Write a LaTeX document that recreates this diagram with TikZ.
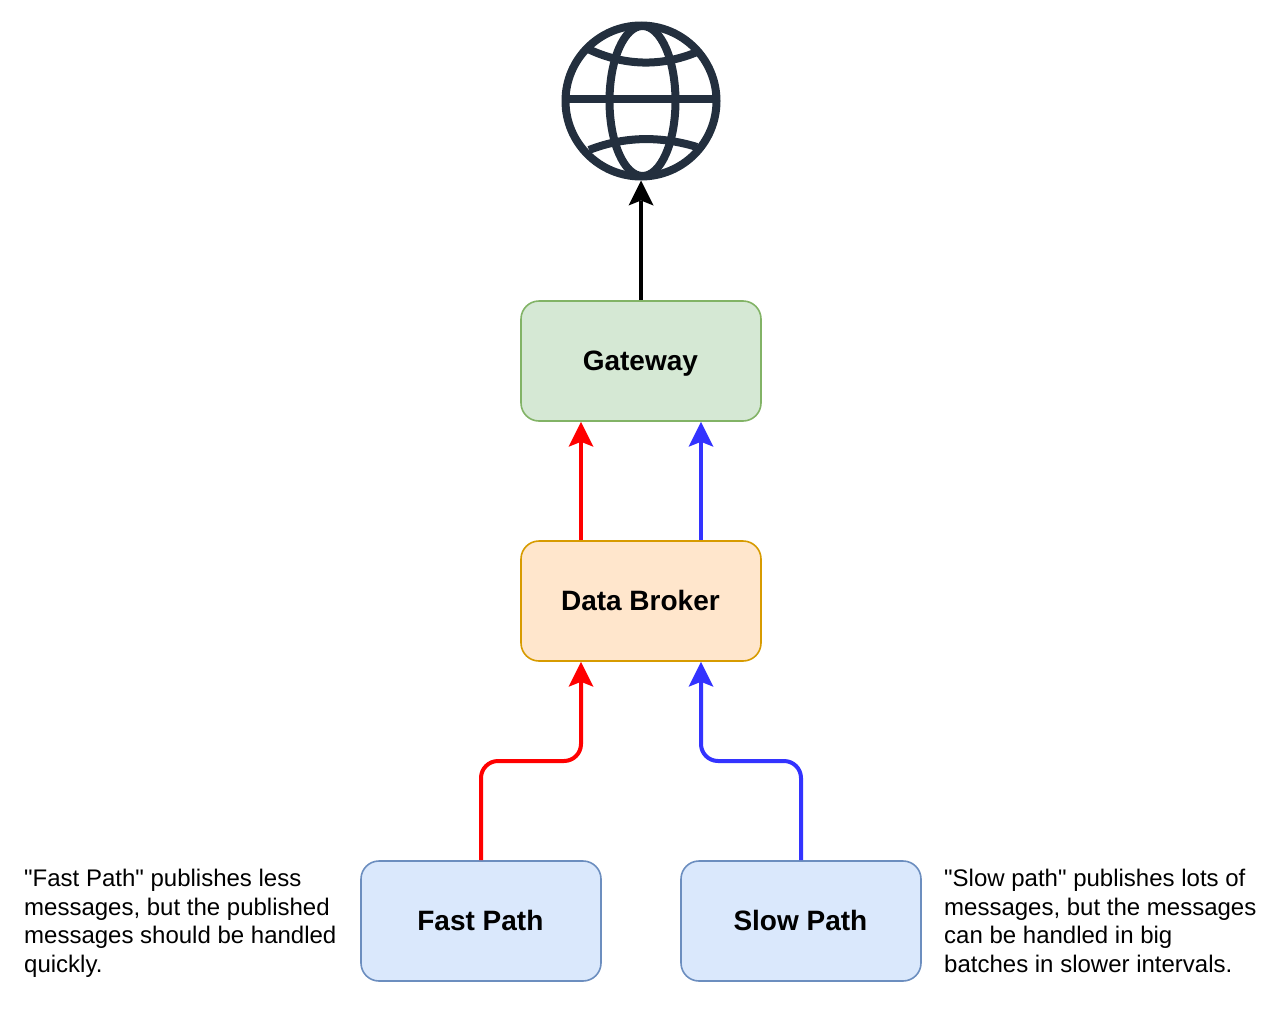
\documentclass[tikz,border=0pt]{standalone}
\usepackage{fontspec}
\setmainfont[Ligatures=TeXOff]{Liberation Sans}
\usetikzlibrary{arrows.meta,calc}
\definecolor{greenfill}{HTML}{D5E8D4}
\definecolor{greenline}{HTML}{82B366}
\definecolor{orangefill}{HTML}{FFE6CC}
\definecolor{orangeline}{HTML}{D79B00}
\definecolor{bluefill}{HTML}{DAE8FC}
\definecolor{blueline}{HTML}{6C8EBF}
\definecolor{fastred}{HTML}{FF0000}
\definecolor{slowblue}{HTML}{3333FF}
\definecolor{globecol}{HTML}{232F3E}
\tikzset{
  boxnode/.style={draw,rounded corners=18pt,line width=1.6pt,inner sep=0pt,
    text height=20pt,text depth=2pt,execute at end node={\kern 1.2pt},
    font=\fontsize{28}{32}\selectfont\bfseries},
  wide/.style={minimum width=240pt,minimum height=120pt},
  gatewaybox/.style={boxnode,wide,fill=greenfill,draw=greenline},
  brokerbox/.style={boxnode,wide,fill=orangefill,draw=orangeline},
  sourcebox/.style={boxnode,wide,fill=bluefill,draw=blueline},
  note/.style={align=left,inner sep=0pt,font=\fontsize{24}{28.8}\selectfont},
  link/.style={line width=4pt,rounded corners=17pt,
    -{Stealth[length=25pt,width=25pt,inset=5pt,round=false,line width=0pt]}},
  globeline/.style={draw=globecol,line width=8pt},
}
\begin{document}
\begin{tikzpicture}[x=1pt,y=-1pt]
\useasboundingbox (0,0) rectangle (1280,1020);
% globe icon
\node[circle,minimum size=151pt,inner sep=0pt,line width=8pt,draw=globecol] (globe) at (641,101) {};
\draw[globeline] (642.5,101) ellipse [x radius=33,y radius=75];
\draw[globeline] (565,99) -- (717,99);
\draw[globeline] (588,49) .. controls (624,66) and (661,67) .. (697,52);
\draw[globeline] (589,150) .. controls (625,136) and (661,136) .. (697,147);
% boxes
\node[gatewaybox] (gateway) at (641,361) {Gateway};
\node[brokerbox] (broker) at (641,601) {Data Broker};
\node[sourcebox] (fast) at (481,921) {Fast Path};
\node[sourcebox] (slow) at (801,921) {Slow Path};
% notes
\node[note,anchor=west] (fastnote) at (24,923.2) {"Fast Path" publishes less\\messages, but the published\\messages should be handled\\quickly.};
\node[note,anchor=west] (slownote) at (944,920.9) {"Slow path" publishes lots of\\messages, but the messages\\can be handled in big\\batches in slower intervals.};
% connectors
\draw[link,black] (gateway.north) -- (globe.south);
\draw[link,fastred] ([xshift=-60pt]broker.north) -- ([xshift=-60pt]gateway.south);
\draw[link,slowblue] ([xshift=60pt]broker.north) -- ([xshift=60pt]gateway.south);
\draw[link,fastred] (fast.north) |- ($(fast.north)!0.5!([xshift=-60pt]broker.south)$) -| ([xshift=-60pt]broker.south);
\draw[link,slowblue] (slow.north) |- ($(slow.north)!0.5!([xshift=60pt]broker.south)$) -| ([xshift=60pt]broker.south);
\end{tikzpicture}
\end{document}
